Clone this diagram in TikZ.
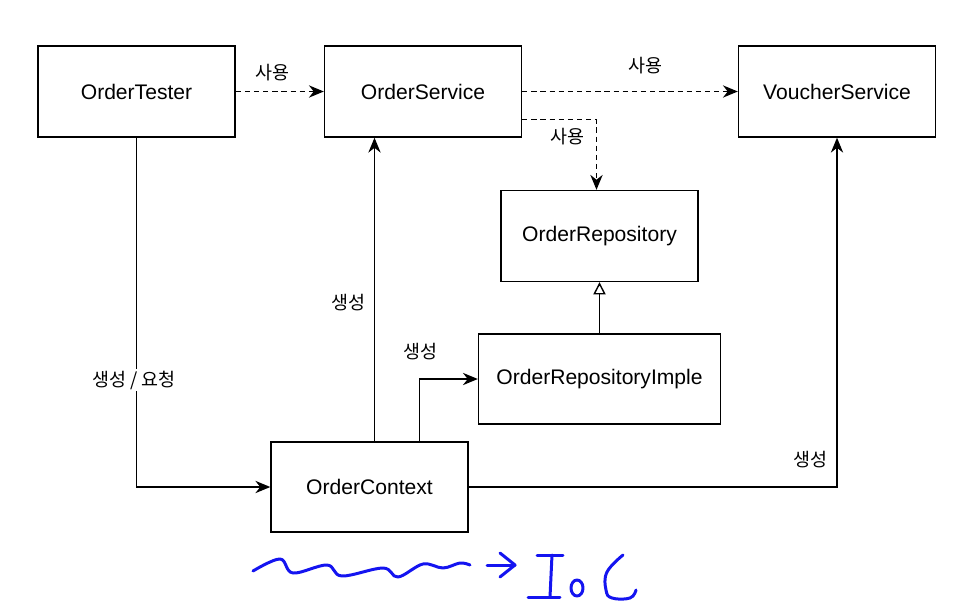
\documentclass[tikz,border=0pt]{standalone}
\usepackage{fontspec}
\setmainfont{Liberation Sans}
\newfontfamily\kofont{Noto Sans CJK KR}
\usetikzlibrary{arrows.meta, calc}
\definecolor{pen}{HTML}{1414F0}

\begin{document}
\begin{tikzpicture}[x={(0.02cm,0)}, y={(0,-0.02cm)},
  box/.style={draw=black, line width=0.8pt, minimum width=3.94cm, minimum height=1.82cm, font=\fontsize{12}{14}\selectfont},
  lbl/.style={font=\kofont\fontsize{10.5}{12}\selectfont, fill=white, inner sep=1pt},
  uses/.style={line width=0.8pt, dash pattern=on 3pt off 2.2pt, -{Stealth[length=8.5pt, width=7pt]}},
  makes/.style={line width=0.8pt, -{Stealth[length=8.5pt, width=7pt]}},
  pen/.style={draw=pen, line width=1.7pt, line cap=round, line join=round}]
  \useasboundingbox (0,0) rectangle (974,602);

  % classes
  \node[box] (tester) at (136.5,91.5) {OrderTester};
  \node[box] (svc) at (423,91.5) {OrderService};
  \node[box] (voucher) at (837,91.5) {VoucherService};
  \node[box] (repo) at (599.5,236) {OrderRepository};
  \node[box, minimum width=4.84cm, minimum height=1.8cm] (impl) at (599.5,379) {OrderRepositoryImple};
  \node[box, minimum height=1.8cm] (ctx) at (369.5,487) {OrderContext};

  % dependencies
  \draw[uses] (tester) -- (svc);
  \node[lbl] (l1) at (272,73) {사용};
  \draw[uses] (svc) -- (voucher);
  \node[lbl] (l2) at (645,66) {사용};
  \coordinate (s1) at ($(svc.east)+(0,28)$);
  \draw[uses] (s1) -| ($(repo.north)+(-3,0)$);
  \node[lbl] (l3) at (567,137) {사용};
  \draw[line width=0.8pt, -{Triangle[open, length=7pt, width=7pt]}] (impl.north) -- (repo.south);

  % creation
  \coordinate (c1) at ($(ctx.north)+(5,0)$);
  \coordinate (c2) at ($(ctx.north)+(50,0)$);
  \draw[makes] (c1) -- (c1 |- svc.south);
  \node[lbl] (l4) at (348,303) {생성};
  \draw[makes] (c2) |- (impl.west);
  \node[lbl] (l5) at (420,352) {생성};
  \draw[makes] (tester.south) |- (ctx.west);
  \node[lbl] (l6) at (134,380) {생성 / 요청};
  \draw[makes] (ctx.east) -| (voucher.south);
  \node[lbl] (l7) at (810,460) {생성};

  % handwritten note
  \draw[pen] plot[smooth, tension=0.6] coordinates {(253,571) (280,559) (293,573) (327,565) (342,576) (383,568) (398,577) (423,564) (443,568) (460,563) (470,565)};
  \draw[pen] (487,565) -- (515,565);
  \draw[pen] (500,553) -- (515,565) -- (500,577);
  \draw[pen] (537,555) -- (563,555);
  \draw[pen] (552,555) -- (550,597);
  \draw[pen] (528,597) -- (560,597);
  \draw[pen] (577,588) ellipse (6 and 8);
  \draw[pen] plot[smooth, tension=0.7] coordinates {(623,555) (607,572) (606,590) (612,598) (630,598) (636,590)};
\end{tikzpicture}
\end{document}
